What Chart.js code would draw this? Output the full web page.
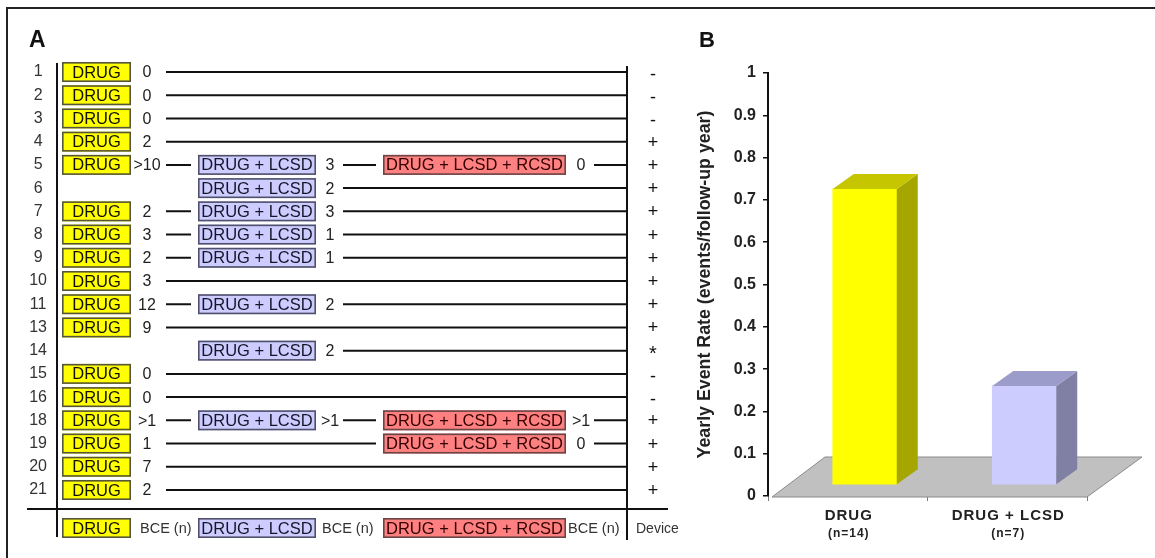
<!DOCTYPE html>
<html><head><meta charset="utf-8">
<script src="https://cdn.jsdelivr.net/npm/chart.js@4.4.1/dist/chart.umd.min.js"></script>
<style>
html,body{margin:0;padding:0;background:#fff;}
#wrap{position:relative;width:1155px;height:558px;overflow:hidden;background:#fff;}
#frame{position:absolute;left:6px;top:7px;width:1300px;height:700px;border-top:2px solid #222;border-left:2px solid #222;}
#cA{position:absolute;left:0;top:0;}
#cB{position:absolute;left:680px;top:0;}
</style></head><body>
<div id="wrap"><div id="frame"></div>
<canvas id="cA" width="680" height="558"></canvas>
<canvas id="cB" width="475" height="558"></canvas></div>
<script>
// ---------- DATA ----------
const patients = ['1','2','3','4','5','6','7','8','9','10','11','13','14','15','16','18','19','20','21'];
const drugBCE  = ['0','0','0','2','>10',null,'2','3','2','3','12','9',null,'0','0','>1','1','7','2'];
const lcsdBCE  = [null,null,null,null,'3','2','3','1','1',null,'2',null,'2',null,null,'>1',null,null,null];
const rcsdBCE  = [null,null,null,null,'0',null,null,null,null,null,null,null,null,null,null,'>1','0',null,null];
const device   = ['-','-','-','+','+','+','+','+','+','+','+','+','*','-','-','+','+','+','+'];
const stageNames = ['DRUG','DRUG + LCSD','DRUG + LCSD + RCSD'];
const legendBCE = 'BCE (n)';
const legendDevice = 'Device';

const barCategories = ['DRUG','DRUG + LCSD'];
const barCounts = ['(n=14)','(n=7)'];
const yearlyEventRate = [0.70, 0.234];
const yAxisTitle = 'Yearly Event Rate (events/follow-up year)';

// ---------- LAYOUT / STYLE ----------
const FONT = '"Liberation Sans", Arial, Helvetica, sans-serif';
const LA = {
  box: [
    {x0:62,  x1:131, fill:'#ffff00', stroke:'#55553a', text:'#111100'},
    {x0:198, x1:316, fill:'#ccccff', stroke:'#50506a', text:'#15152a'},
    {x0:383, x1:566, fill:'#ff8080', stroke:'#6a4545', text:'#330000'}
  ],
  boxH: 20,
  countX: [147, 330, 581],
  lineStart: [166, 343, 594],
  gapBeforeBox: 7,
  deviceX: 627, symbolX: 653,
  leftRule: {x:57, y0:63, y1:537},
  devRule: {y0:66, y1:540},
  sep: {x0:27, x1:668, y:509},
  legendY: 528,
  legendBCEx: [140, 322, 568],
  legendDeviceX: 636
};
const symbolOffset = {'-': 3, '+': 1, '*': 4};

// ---------- PANEL A ----------
const stages = [drugBCE, lcsdBCE, rcsdBCE];
const segDatasets = [];
patients.forEach((p, i) => {
  const st = [0,1,2].filter(k => stages[k][i] !== null);
  st.forEach((k, j) => {
    const start = LA.lineStart[k];
    const end = (j + 1 < st.length) ? LA.box[st[j+1]].x0 - LA.gapBeforeBox : LA.deviceX;
    segDatasets.push({
      data: [{x:start, y:p}, {x:end, y:p}],
      showLine: true, borderColor:'#111', borderWidth:2, pointRadius:0, pointHoverRadius:0
    });
  });
});

function drawBox(ctx, k, y) {
  const b = LA.box[k];
  const h = LA.boxH;
  ctx.fillStyle = b.fill;
  ctx.fillRect(b.x0, y - h/2, b.x1 - b.x0, h);
  ctx.strokeStyle = b.stroke;
  ctx.lineWidth = 1.6;
  ctx.strokeRect(b.x0 + 0.8, y - h/2 + 0.8, b.x1 - b.x0 - 1.6, h - 1.6);
  ctx.fillStyle = b.text;
  ctx.font = '16.5px ' + FONT;
  ctx.textAlign = 'center';
  ctx.textBaseline = 'middle';
  ctx.fillText(stageNames[k], (b.x0 + b.x1)/2, y + 1);
}

const panelA = {
  id: 'panelA',
  afterDatasetsDraw(chart) {
    const {ctx} = chart;
    const xs = chart.scales.x, ys = chart.scales.y;
    const X = v => xs.getPixelForValue(v);
    ctx.save();
    ctx.strokeStyle = '#111'; ctx.lineWidth = 2;
    ctx.beginPath();
    ctx.moveTo(X(LA.leftRule.x), LA.leftRule.y0); ctx.lineTo(X(LA.leftRule.x), LA.leftRule.y1);
    ctx.moveTo(X(LA.deviceX), LA.devRule.y0); ctx.lineTo(X(LA.deviceX), LA.devRule.y1);
    ctx.moveTo(LA.sep.x0, LA.sep.y); ctx.lineTo(X(LA.sep.x1), LA.sep.y);
    ctx.stroke();
    patients.forEach((p, i) => {
      const y = ys.getPixelForValue(i);
      [0,1,2].forEach(k => {
        const v = stages[k][i];
        if (v === null) return;
        drawBox(ctx, k, y);
        ctx.fillStyle = '#222';
        ctx.font = '16px ' + FONT;
        ctx.textAlign = 'center'; ctx.textBaseline = 'middle';
        ctx.fillText(v, X(LA.countX[k]), y + 1);
      });
      ctx.fillStyle = '#111';
      ctx.font = (device[i] === '*' ? '20px ' : '18px ') + FONT;
      ctx.textAlign = 'center'; ctx.textBaseline = 'middle';
      ctx.fillText(device[i], X(LA.symbolX), y + symbolOffset[device[i]]);
    });
    const ly = LA.legendY;
    [0,1,2].forEach(k => {
      drawBox(ctx, k, ly);
      ctx.fillStyle = '#333';
      ctx.font = '14.5px ' + FONT;
      ctx.textAlign = 'left'; ctx.textBaseline = 'middle';
      ctx.fillText(legendBCE, X(LA.legendBCEx[k]), ly + 1);
    });
    ctx.font = '14px ' + FONT;
    ctx.fillText(legendDevice, X(LA.legendDeviceX), ly + 1);
    ctx.fillStyle = '#111';
    ctx.font = 'bold 23px ' + FONT;
    ctx.textAlign = 'left'; ctx.textBaseline = 'alphabetic';
    ctx.fillText('A', 29, 47);
    ctx.restore();
  }
};

new Chart(document.getElementById('cA'), {
  type: 'scatter',
  data: {labels: patients, datasets: segDatasets},
  options: {
    responsive: false, animation: false, devicePixelRatio: 1,
    layout: {padding: {left:0, right:0, top:60.4, bottom:56.4}},
    plugins: {legend:{display:false}, tooltip:{enabled:false}},
    events: [],
    scales: {
      x: {type:'linear', min:57, max:680, display:false},
      y: {type:'category', labels: patients, offset:true,
          grid:{display:false, drawTicks:false}, border:{display:false},
          ticks:{font:{family:FONT, size:16}, color:'#333', crossAlign:'center', padding:10, autoSkip:false},
          afterFit(s){ s.width = 57; }}
    }
  },
  plugins: [panelA]
});

// ---------- PANEL B ----------
const B3D = {dx:21, dy:-15, shiftX:17, shiftY:-11, floorDx:53, floorDy:-40, floorInset:4};
const faceColors = [
  {side:'#a6a600', top:'#c6c600'},
  {side:'#8080a4', top:'#9c9cca'}
];

const bar3d = {
  id: 'bar3d',
  beforeDatasetsDraw(chart) {
    const {ctx, chartArea:a} = chart;
    const y0 = chart.scales.y.getPixelForValue(0) + 1;
    ctx.save();
    ctx.beginPath();
    ctx.moveTo(a.left + B3D.floorInset, y0);
    ctx.lineTo(a.right, y0);
    ctx.lineTo(a.right + B3D.floorDx + 2, y0 + B3D.floorDy);
    ctx.lineTo(a.left + B3D.floorInset + B3D.floorDx, y0 + B3D.floorDy);
    ctx.closePath();
    ctx.fillStyle = '#c0c0c0'; ctx.fill();
    ctx.strokeStyle = '#8a8a8a'; ctx.lineWidth = 1; ctx.stroke();
    ctx.restore();
    ctx.save();
    ctx.translate(B3D.shiftX, B3D.shiftY);
  },
  afterDatasetsDraw(chart) {
    const {ctx} = chart;
    const meta = chart.getDatasetMeta(0);
    meta.data.forEach((el, i) => {
      const {x, y, base, width} = el.getProps(['x','y','base','width'], true);
      const l = x - width/2, r = x + width/2;
      ctx.beginPath();
      ctx.moveTo(r, y); ctx.lineTo(r + B3D.dx, y + B3D.dy);
      ctx.lineTo(r + B3D.dx, base + B3D.dy); ctx.lineTo(r, base); ctx.closePath();
      ctx.fillStyle = faceColors[i].side; ctx.fill();
      ctx.beginPath();
      ctx.moveTo(l, y); ctx.lineTo(l + B3D.dx, y + B3D.dy);
      ctx.lineTo(r + B3D.dx, y + B3D.dy); ctx.lineTo(r, y); ctx.closePath();
      ctx.fillStyle = faceColors[i].top; ctx.fill();
    });
    ctx.restore();
  },
  afterDraw(chart) {
    const {ctx} = chart;
    const xs = chart.scales.x;
    ctx.save();
    ctx.fillStyle = '#222';
    ctx.textAlign = 'center'; ctx.textBaseline = 'middle';
    barCategories.forEach((c, i) => {
      const px = xs.getPixelForValue(i);
      ctx.font = 'bold 15px ' + FONT;
      try { ctx.letterSpacing = '1px'; } catch(e) {}
      ctx.fillText(c, px + 1, 516);
      ctx.font = 'bold 12px ' + FONT;
      ctx.fillText(barCounts[i], px + 1, 534);
    });
    try { ctx.letterSpacing = '0px'; } catch(e) {}
    ctx.fillStyle = '#111';
    ctx.font = 'bold 22px ' + FONT;
    ctx.textAlign = 'left'; ctx.textBaseline = 'alphabetic';
    ctx.fillText('B', 19, 47);
    ctx.restore();
  }
};

new Chart(document.getElementById('cB'), {
  type: 'bar',
  data: {labels: barCategories, datasets: [{
    data: yearlyEventRate,
    backgroundColor: ['#ffff00', '#ccccff'],
    borderWidth: 0, barThickness: 64
  }]},
  options: {
    responsive: false, animation: false, devicePixelRatio: 1,
    events: [],
    layout: {padding: {left:0, right:68, top:73, bottom:57}},
    plugins: {legend:{display:false}, tooltip:{enabled:false}},
    scales: {
      x: {grid:{display:true, drawOnChartArea:false, offset:true, tickLength:5, color:'#7a7a7a', lineWidth:1},
          border:{display:false}, ticks:{display:false},
          afterFit(s){ s.height = 5; }},
      y: {min:0, max:1,
          ticks:{stepSize:0.1, font:{family:FONT, size:16, weight:'bold'}, color:'#222', padding:7,
                 callback: v => String(+v.toFixed(1))},
          grid:{drawOnChartArea:false, tickLength:5, color:'#111', lineWidth:1.5},
          border:{color:'#111', width:2},
          title:{display:true, text:yAxisTitle, font:{family:FONT, size:17.8, weight:'bold'}, color:'#222',
                 padding:{top:14.5, bottom:0}},
          afterFit(s){ s.width = 88; }}
    }
  },
  plugins: [bar3d]
});
</script>
</body></html>
